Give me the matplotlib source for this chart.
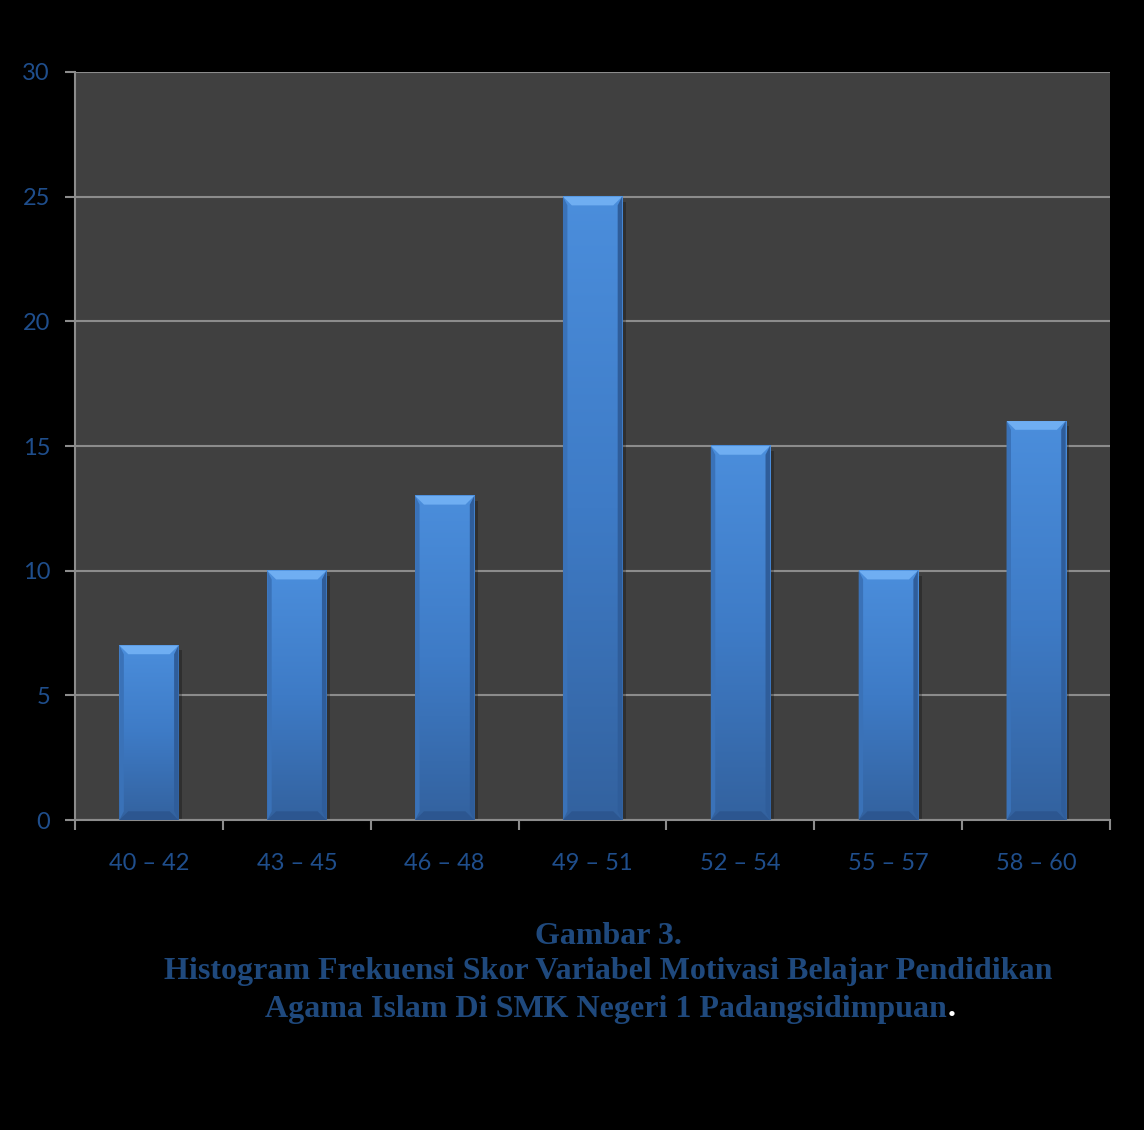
import matplotlib.pyplot as plt
import numpy as np
from matplotlib.colors import LinearSegmentedColormap
from matplotlib.patches import Polygon, Rectangle

categories = ["40 – 42", "43 – 45", "46 – 48", "49 – 51", "52 – 54", "55 – 57", "58 – 60"]
frequency = [7, 10, 13, 25, 15, 10, 16]
y_ticks = [0, 5, 10, 15, 20, 25, 30]

text_blue = "#1F4E8C"
grid_gray = "#8C8C8C"

fig = plt.figure(figsize=(11.44, 11.30), dpi=100, facecolor="black")
ax = fig.add_axes([0.0656, 0.2743, 0.9047, 0.662])
ax.set_facecolor("#404040")

x = np.arange(len(categories))
width = 0.4
ax.set_xlim(-0.5, len(categories) - 0.5)
ax.set_ylim(0, 30)

# gradient fill for the bars, lighter at the top
body = LinearSegmentedColormap.from_list("body", ["#33629F", "#3E7BC6", "#4B8EDC"])
grad = np.linspace(0, 1, 256).reshape(-1, 1)
bev_x = 0.06
bev_y = 0.35
for xi, h in zip(x, frequency):
    x0, x1 = xi - width / 2, xi + width / 2
    # soft shadow on the right
    ax.add_patch(Rectangle((x1, 0), 0.025, h - 0.2, color="black", alpha=0.25, lw=0, zorder=2))
    ax.imshow(grad, extent=[x0, x1, 0, h], origin="lower", cmap=body,
              aspect="auto", zorder=3, interpolation="bilinear")
    # bevel faces
    ax.add_patch(Polygon([(x0, h), (x1, h), (x1 - bev_x, h - bev_y), (x0 + bev_x, h - bev_y)],
                         closed=True, color="#6FAEF2", lw=0, zorder=4))
    ax.add_patch(Polygon([(x0, 0), (x1, 0), (x1 - bev_x, bev_y), (x0 + bev_x, bev_y)],
                         closed=True, color="#2C5690", lw=0, zorder=4))
    ax.add_patch(Polygon([(x0, 0), (x0, h), (x0 + bev_x * 0.5, h - bev_y), (x0 + bev_x * 0.5, bev_y)],
                         closed=True, color="#3A72B8", lw=0, zorder=4))
    ax.add_patch(Polygon([(x1, 0), (x1, h), (x1 - bev_x * 0.5, h - bev_y), (x1 - bev_x * 0.5, bev_y)],
                         closed=True, color="#2F5D9A", lw=0, zorder=4))

ax.set_yticks(y_ticks)
ax.yaxis.grid(True, color=grid_gray, lw=1.5, zorder=1)
ax.set_axisbelow(True)

ax.set_xticks(np.arange(len(categories) + 1) - 0.5)
ax.set_xticklabels([])
ax.set_xticks(x, minor=True)
ax.set_xticklabels(categories, minor=True)
ax.tick_params(axis="x", which="major", length=7, width=1.5, color=grid_gray, direction="out")
ax.tick_params(axis="x", which="minor", length=0, pad=24, labelsize=17, labelcolor=text_blue)
ax.tick_params(axis="y", length=7, width=1.5, color=grid_gray, pad=11, labelsize=17, labelcolor=text_blue)

for side in ["left", "bottom"]:
    ax.spines[side].set_color(grid_gray)
    ax.spines[side].set_linewidth(1.5)
for side in ["top", "right"]:
    ax.spines[side].set_visible(False)

for lbl in ax.get_xticklabels(minor=True) + ax.get_yticklabels():
    lbl.set_fontfamily("Lato")

caption = ["Gambar 3.",
           "Histogram Frekuensi Skor Variabel Motivasi Belajar Pendidikan",
           "Agama Islam Di SMK Negeri 1 Padangsidimpuan"]
cap_font = dict(family="Liberation Serif", weight="bold", size=23, color="#1F497D")
fig.text(0.532, 1 - 937 / 1130, caption[0], ha="center", va="center", **cap_font)
fig.text(0.532, 1 - 972 / 1130, caption[1], ha="center", va="center", **cap_font)
t3 = fig.text(0.530, 1 - 1009 / 1130, caption[2], ha="center", va="center", **cap_font)

fig.canvas.draw()
bb = t3.get_window_extent()
fig.text(bb.x1 / fig.bbox.width, 1 - 1009 / 1130, ".", ha="left", va="center",
         family="Liberation Serif", weight="bold", size=23, color="white")

fig.savefig("out.png", dpi=100, facecolor="black")
